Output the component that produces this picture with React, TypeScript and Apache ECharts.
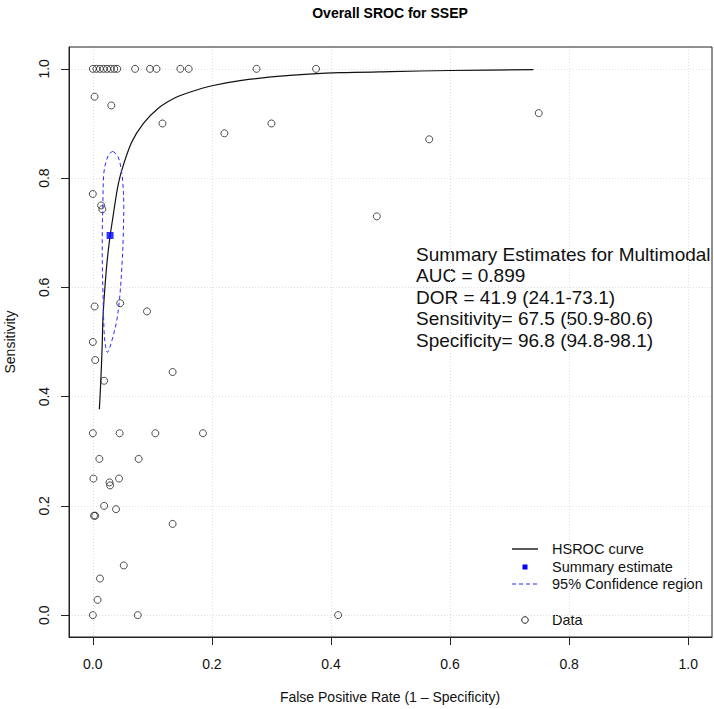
import React, { useEffect, useRef } from "react";
import * as echarts from "echarts";

// Study data (FPR = 1 - specificity, sensitivity)
const studyFpr = [
  0.0, 0.006, 0.012, 0.018, 0.024, 0.03, 0.036, 0.041, 0.071, 0.096, 0.107, 0.147, 0.161, 0.275, 0.375,
  0.003, 0.031, 0.117, 0.221, 0.3, 0.565, 0.749, 0.477,
  0.0, 0.014, 0.016,
  0.003, 0.046, 0.091, 0.0, 0.004, 0.134, 0.019,
  0.0, 0.045, 0.105, 0.185,
  0.011, 0.077,
  0.001, 0.044, 0.028, 0.029,
  0.019, 0.039, 0.002, 0.004,
  0.134, 0.052, 0.012, 0.008,
  0.0, 0.0755, 0.412,
];
const studySens = [
  1, 1, 1, 1, 1, 1, 1, 1, 1, 1, 1, 1, 1, 1, 1,
  0.949, 0.933, 0.9, 0.882, 0.9, 0.871, 0.919, 0.73,
  0.771, 0.75, 0.743,
  0.565, 0.571, 0.556, 0.5, 0.467, 0.445, 0.429,
  0.333, 0.333, 0.333, 0.333,
  0.286, 0.286,
  0.25, 0.25, 0.243, 0.2375,
  0.2, 0.194, 0.182, 0.182,
  0.167, 0.091, 0.067, 0.028,
  0.0, 0.0, 0.0,
];

// HSROC curve
const curveFpr = [0.011, 0.0134, 0.0156, 0.0173, 0.023, 0.0285, 0.034, 0.041, 0.048, 0.065, 0.085, 0.11, 0.14, 0.165, 0.2, 0.25, 0.331, 0.415, 0.5, 0.6, 0.74];
const curveSens = [0.377, 0.428, 0.489, 0.55, 0.636, 0.69, 0.73, 0.779, 0.812, 0.865, 0.9, 0.928, 0.948, 0.958, 0.969, 0.979, 0.988, 0.993, 0.995, 0.997, 0.9987];

// 95% confidence region
const ellipseFpr = [0.034, 0.042, 0.047, 0.0505, 0.052, 0.051, 0.049, 0.045, 0.04, 0.0324, 0.027, 0.0245, 0.021, 0.019, 0.0173, 0.016, 0.0158, 0.0168, 0.0185, 0.023, 0.028, 0.034];
const ellipseSens = [0.849, 0.84, 0.82, 0.79, 0.748, 0.69, 0.641, 0.58, 0.538, 0.504, 0.485, 0.481, 0.495, 0.519, 0.58, 0.641, 0.69, 0.748, 0.809, 0.833, 0.845, 0.849];

// Summary estimate
const summaryFpr = [0.029];
const summarySens = [0.695];

const tickValues = [0, 0.2, 0.4, 0.6, 0.8, 1.0];

const summaryLines = [
  "Summary Estimates for Multimodal",
  "AUC = 0.899",
  "DOR = 41.9 (24.1-73.1)",
  "Sensitivity= 67.5 (50.9-80.6)",
  "Specificity= 96.8 (94.8-98.1)",
];

const legendLabels = ["HSROC curve", "Summary estimate", "95% Confidence region", "Data"];

const FONT = "'Liberation Sans', Arial, Helvetica, sans-serif";

export default function App() {
  const ref = useRef<HTMLDivElement>(null);
  useEffect(() => {
    if (!ref.current) return;
    const chart = echarts.init(ref.current, undefined, { renderer: "svg" });
    const zip = (a: number[], b: number[]) => a.map((v, i) => [v, b[i]]);
    const gridLeft = 69, gridTop = 47, gridW = 643, gridH = 590;
    const axisCommon = (isX: boolean) => ({
      type: "value" as const,
      min: -0.04,
      max: 1.04,
      axisLine: { show: true, onZero: false, lineStyle: { color: "#222", width: 1 } },
      axisTick: { show: true, length: 8, inside: false, customValues: tickValues, lineStyle: { color: "#222" } },
      axisLabel: {
        customValues: tickValues,
        formatter: (v: number) => v.toFixed(1),
        fontFamily: FONT,
        fontSize: 14,
        color: "#111",
        margin: isX ? 20 : 18,
        rotate: isX ? 0 : 90,
      },
      splitLine: { show: true, lineStyle: { color: "#dedede", type: [1, 2], width: 1 } },
    });
    const legendX = 512, legendTextX = 552;
    const legendY = [549, 567, 584, 620];
    chart.setOption({
      animation: false,
      backgroundColor: "#fff",
      grid: { left: gridLeft, top: gridTop, width: gridW, height: gridH, containLabel: false },
      xAxis: axisCommon(true),
      yAxis: axisCommon(false),
      graphic: [
        { type: "rect", shape: { x: gridLeft, y: gridTop, width: gridW, height: gridH }, style: { fill: "none", stroke: "#222", lineWidth: 1 }, z: 10, silent: true },
        { type: "text", x: 390, y: 13, style: { text: "Overall SROC for SSEP", font: `bold 14px ${FONT}`, fill: "#000", textAlign: "center", textVerticalAlign: "middle" } },
        { type: "text", x: 390, y: 697, style: { text: "False Positive Rate (1 \u2013 Specificity)", font: `14px ${FONT}`, fill: "#111", textAlign: "center", textVerticalAlign: "middle" } },
        { type: "text", x: 10, y: 342, rotation: Math.PI / 2, style: { text: "Sensitivity", font: `14px ${FONT}`, fill: "#111", textAlign: "center", textVerticalAlign: "middle" } },
        ...summaryLines.map((t, i) => ({
          type: "text", x: 416, y: 254 + i * 21.6,
          style: { text: t, font: `19px ${FONT}`, fill: "#111", textAlign: "left", textVerticalAlign: "middle" },
        })),
        { type: "line", shape: { x1: legendX, y1: legendY[0], x2: legendX + 26, y2: legendY[0] }, style: { stroke: "#000", lineWidth: 1.3 } },
        { type: "rect", shape: { x: legendX + 10.5, y: legendY[1] - 2.5, width: 5, height: 5 }, style: { fill: "#0000ff" } },
        { type: "line", shape: { x1: legendX, y1: legendY[2], x2: legendX + 26, y2: legendY[2] }, style: { stroke: "#2a2aff", lineWidth: 1, lineDash: [4, 3] } },
        { type: "circle", shape: { cx: legendX + 13, cy: legendY[3], r: 3.3 }, style: { fill: "none", stroke: "#222", lineWidth: 1 } },
        ...legendLabels.map((t, i) => ({
          type: "text", x: legendTextX, y: legendY[i],
          style: { text: t, font: `14.5px ${FONT}`, fill: "#111", textAlign: "left", textVerticalAlign: "middle" },
        })),
      ],
      series: [
        {
          name: "Data",
          type: "scatter",
          data: zip(studyFpr, studySens),
          symbol: "circle",
          symbolSize: 7,
          itemStyle: { color: "rgba(0,0,0,0)", borderColor: "#222", borderWidth: 1 },
          z: 3,
        },
        {
          name: "HSROC curve",
          type: "line",
          data: zip(curveFpr, curveSens),
          showSymbol: false,
          smooth: 0.25,
          lineStyle: { color: "#111", width: 1.2 },
          z: 4,
        },
        {
          name: "95% Confidence region",
          type: "line",
          data: zip(ellipseFpr, ellipseSens),
          showSymbol: false,
          smooth: 0.35,
          lineStyle: { color: "#2a2aff", width: 1, type: [4, 3] },
          z: 4,
        },
        {
          name: "Summary estimate",
          type: "scatter",
          data: zip(summaryFpr, summarySens),
          symbol: "rect",
          symbolSize: 7,
          itemStyle: { color: "#0000ff" },
          z: 5,
        },
      ],
    });
    return () => chart.dispose();
  }, []);
  return <div ref={ref} style={{ width: 714, height: 709, position: "absolute", left: 0, top: 0 }} />;
}
